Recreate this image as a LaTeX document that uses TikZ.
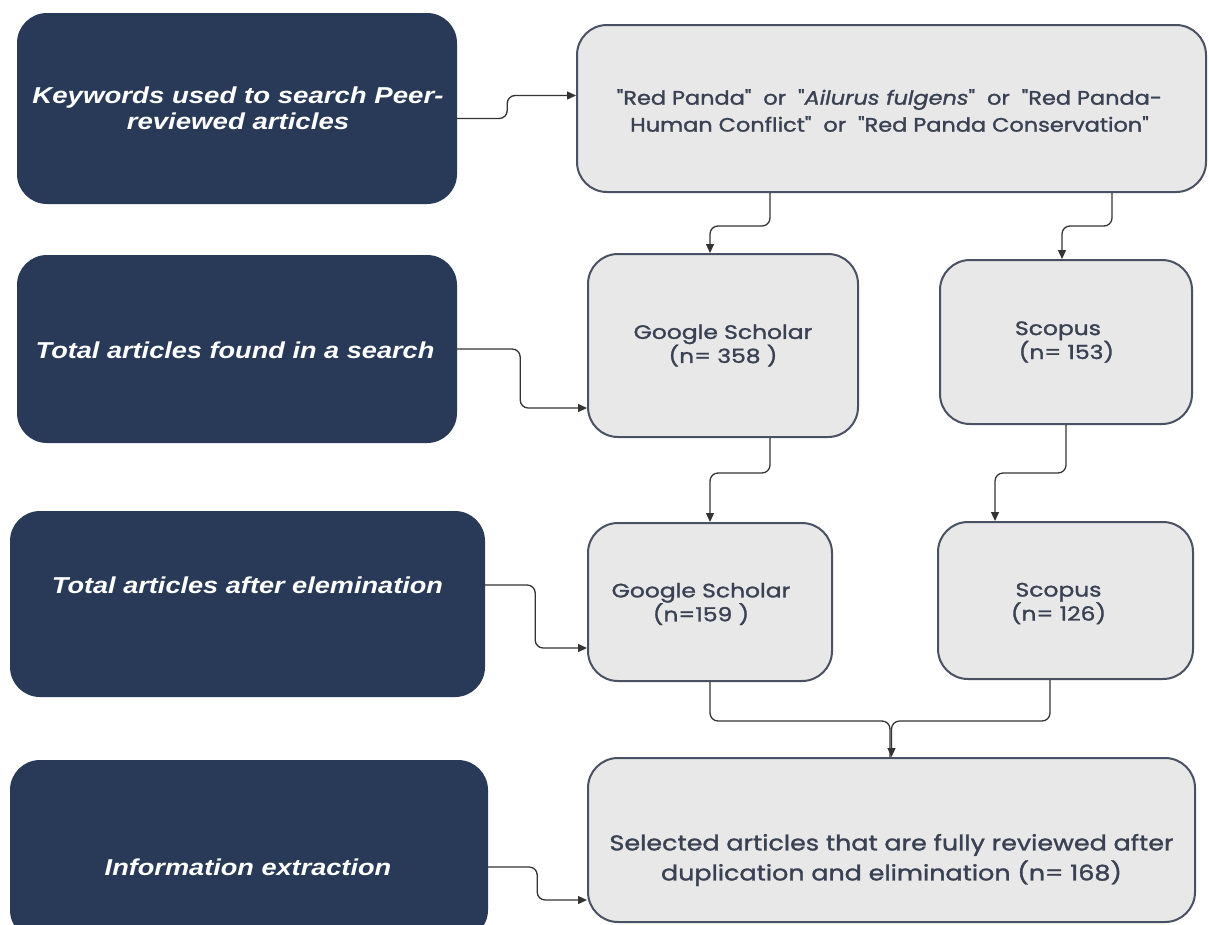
\documentclass[tikz,border=0pt]{standalone}
\usepackage{fontspec}
\setmainfont{Poppins}
\newfontfamily\lightfont{Poppins}[Ligatures=TeXOff, FakeBold=1.3]
\newfontfamily\darkfont{Liberation Sans}
\usetikzlibrary{arrows.meta}
\definecolor{navy}{HTML}{283A57}
\definecolor{boxgray}{HTML}{E8E8E9}
\definecolor{edgegray}{HTML}{4A5162}
\definecolor{txtc}{HTML}{394152}
\definecolor{wirec}{HTML}{333333}
\newcommand\sx[2][1.15]{\scalebox{#1}[1]{#2}}
\begin{document}
\begin{tikzpicture}[x=1pt,y=-1pt,
 darkbox/.style={fill=navy, draw=none, rounded corners=30pt, inner sep=0pt},
 lightbox/.style={fill=boxgray, draw=edgegray, line width=2pt, rounded corners=30pt, inner sep=0pt},
 darktext/.style={text=white, font=\darkfont\itshape\bfseries\fontsize{23}{26}\selectfont, align=center, inner sep=0pt},
 lighttext/.style={text=txtc, font=\lightfont\fontsize{19.5}{24}\selectfont, align=center, inner sep=0pt},
 wire/.style={draw=wirec, line width=1.3pt, rounded corners=8pt, -{Triangle[width=8pt,length=9pt]}}]
\useasboundingbox (0,0) rectangle (1209,924);
% left dark boxes
\node[darkbox, minimum width=440pt, minimum height=191pt] (d1) at (237,108.5) {};
\node[darkbox, minimum width=440pt, minimum height=188pt] (d2) at (237,349) {};
\node[darkbox, minimum width=475pt, minimum height=186pt] (d3) at (247.5,604) {};
\node[darkbox, minimum width=478pt, minimum height=180pt] (d4) at (249,850) {};
\node[darktext] (t1) at (238,108) {\sx[1.2]{Keywords used to search Peer-}\\\sx[1.2]{reviewed articles}};
\node[darktext] (t2) at (235,350) {\sx[1.18]{Total articles found in a search}};
\node[darktext] (t3) at (247.5,585) {\sx[1.18]{Total articles after elemination}};
\node[darktext] (t4) at (248,867) {\sx[1.18]{Information extraction}};
% light boxes
\node[lightbox, minimum width=629pt, minimum height=167pt] (l1) at (891.5,108.5) {};
\node[lighttext, font=\lightfont\fontsize{19.5}{27}\selectfont] at ([xshift=-2pt,yshift=-2pt]l1) {\sx[1.15]{"Red Panda"\ \ or\ \ "\textit{Ailurus fulgens}"\ \ or\ \ "Red Panda-}\\\sx[1.15]{Human Conflict"\ \ or\ \ "Red Panda Conservation"}};
\node[lightbox, minimum width=270pt, minimum height=183pt] (g1) at (723,345.5) {};
\node[lighttext] at (g1) {\sx[1.2]{Google Scholar}\\\sx[1.2]{(n= 358 )}};
\node[lightbox, minimum width=252pt, minimum height=164pt] (s1) at (1066,342) {};
\node[lighttext] at ([xshift=-8pt,yshift=0pt]s1) {\sx[1.2]{Scopus}\\\sx[1.2]{\hspace*{14pt}(n= 153)}};
\node[lightbox, minimum width=244pt, minimum height=158pt] (g2) at (710,602) {};
\node[lighttext] at ([xshift=-9pt,yshift=-2pt]g2) {\sx[1.2]{Google Scholar}\\\sx[1.2]{(n=159 )}};
\node[lightbox, minimum width=255pt, minimum height=157pt] (s2) at (1065.5,600.5) {};
\node[lighttext] at ([xshift=-7pt,yshift=-3pt]s2) {\sx[1.2]{Scopus}\\\sx[1.2]{(n= 126)}};
\node[lightbox, minimum width=607pt, minimum height=164pt] (f) at (891.5,840) {};
\node[lighttext, font=\lightfont\fontsize{21.5}{30}\selectfont] at ([yshift=-20pt]f) {\sx[1.18]{Selected articles that are fully reviewed after}\\\sx[1.18]{duplication and elimination (n= 168)}};
% connectors
\draw[wire] ([yshift=-10pt]d1.east) -- ++(50,0) -- ++(0,-23) -- ([yshift=13pt]l1.west);
\draw[wire] ([xshift=-121.5pt]l1.south) -- ++(0,33) -- ++(-60,0) -- ([xshift=-13pt]g1.north);
\draw[wire] ([xshift=220.5pt]l1.south) -- ++(0,33) -- ++(-50,0) -- ([xshift=-4pt]s1.north);
\draw[wire] (d2.east) -- ++(63,0) -- ++(0,59) -- ([yshift=-62.5pt]g1.west);
\draw[wire] ([xshift=47pt]g1.south) -- ++(0,35) -- ++(-60,0) -- (g2.north);
\draw[wire] (s1.south) -- ++(0,48) -- ++(-71,0) -- ([xshift=-70.5pt]s2.north);
\draw[wire] ([yshift=19pt]d3.east) -- ++(50,0) -- ++(0,63) -- ([yshift=-46pt]g2.west);
\draw[draw=wirec, line width=1.3pt, rounded corners=8pt] (g2.south) -- ++(0,39) -| ([xshift=-1.5pt]f.north);
\draw[wire] ([xshift=-15.5pt]s2.south) -- ++(0,41) -| (f.north);
\draw[wire] ([yshift=-17pt]d4.east) -- ++(49,0) -- ++(0,33) -- ([yshift=-60pt]f.west);
\end{tikzpicture}
\end{document}
